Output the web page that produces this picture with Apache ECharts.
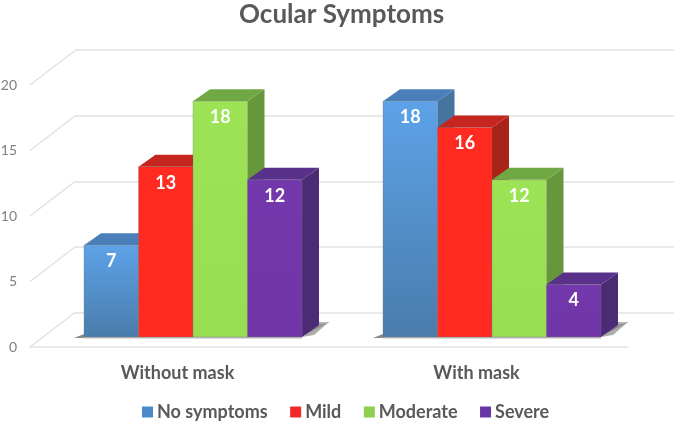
<!DOCTYPE html>
<html><head><meta charset="utf-8">
<style>html,body{margin:0;padding:0;background:#fff}#c{width:677px;height:423px}</style>
<script src="https://cdn.jsdelivr.net/npm/echarts@6/dist/echarts.min.js"></script>
</head><body><div id="c"></div>
<script>
const categories = ['Without mask', 'With mask'];
const noSymptoms = [7, 18];
const mild = [13, 16];
const moderate = [18, 12];
const severe = [12, 4];
const yTicks = [0, 5, 10, 15, 20];

const seriesDefs = [
  {name:'No symptoms', values:noSymptoms, front:['#5da2e8','#4a7cab'], top:'#4a80b9', side:'#47749f', legend:'#4a8ac8'},
  {name:'Mild', values:mild, front:['#ff2a20','#ff2a20'], top:'#c5261f', side:'#a92319', legend:'#f0282a'},
  {name:'Moderate', values:moderate, front:['#9de356','#98de52'], top:'#70a943', side:'#66973a', legend:'#8fce4e'},
  {name:'Severe', values:severe, front:['#7339ac','#7036a8'], top:'#59318b', side:'#4b2b74', legend:'#6a35a5'}
];

const barOffset = [13.5, -10];   // bars stand part-way back on the floor
const depth = [17, -12];         // extrusion of each bar
const wallOffset = [45, -34.5];  // back wall relative to the front plane
const barRatio = 54.5 / 299;

function grad(c){return new echarts.graphic.LinearGradient(0,0,0,1,[{offset:0,color:c[0]},{offset:1,color:c[1]}]);}

function barRender(def, idx){
  return function(params, api){
    const cat = api.value(0), val = api.value(1);
    const band = api.size([1,0])[0], w = band*barRatio;
    const c = api.coord([cat,val]), b = api.coord([cat,0]);
    const x0 = c[0] + barOffset[0] + (idx-2)*w, x1 = x0 + w;
    const yt = c[1] + barOffset[1], yb = b[1] + barOffset[1];
    const dx = depth[0], dy = depth[1];
    const poly = (pts, fill) => ({type:'polygon', shape:{points:pts}, style:{fill}});
    return {type:'group', children:[
      poly([[x1,yb],[x1+dx,yb+dy],[x1+dx,yt+dy],[x1,yt]], def.side),
      poly([[x0,yt],[x0+dx,yt+dy],[x1+dx,yt+dy],[x1,yt]], def.top),
      {type:'rect', shape:{x:x0,y:yt,width:w,height:yb-yt}, style:{fill:grad(def.front), stroke:'rgba(120,120,120,0.55)', lineWidth:0.6}},
      {type:'text', x:(x0+x1)/2, y:yt+16, style:{text:String(val), fill:'#fff', font:'bold 18px Lato', align:'center', verticalAlign:'middle'}}
    ]};
  };
}

function shadowRender(params, api){
  const cat = api.value(0);
  const band = api.size([1,0])[0], w = band*barRatio;
  const b = api.coord([cat,0]);
  const x0 = b[0] + barOffset[0] - 2*w, x1 = x0 + 4*w, y = b[1] + barOffset[1];
  return {type:'group', children:[
    {type:'polygon', shape:{points:[[x1-2,y],[x1+28,y-15],[x1+14,y-15]]},
      style:{fill:new echarts.graphic.LinearGradient(0,0,1,0,[{offset:0,color:'#555'},{offset:1,color:'#d8d8d8'}])}},
    {type:'polygon', shape:{points:[[x1,y],[x1+12,y-2],[x1+27,y-15],[x1+17,y-12]]},
      style:{fill:'#777', opacity:0.6}},
    {type:'polygon', shape:{points:[[x0,y-3],[x0,y+1],[x0-10,y+1]]},
      style:{fill:'#888'}},
    {type:'rect', shape:{x:x0,y:y,width:x1-x0,height:1.5}, style:{fill:'#bbb'}}
  ]};
}

function diagRender(params, api){
  const c = api.coord([0, api.value(0)]);
  const x = params.coordSys.x;
  return {type:'line', shape:{x1:x,y1:c[1],x2:x+wallOffset[0],y2:c[1]+wallOffset[1]},
    style:{stroke:'#e2e2e2', lineWidth:1.5}};
}

const chart = echarts.init(document.getElementById('c'), null, {renderer:'canvas'});
chart.setOption({
  animation:false,
  backgroundColor:'#fff',
  title:{text:'Ocular Symptoms', left:234, top:-3,
    textStyle:{color:'#595959', fontFamily:'Lato', fontWeight:'bold', fontSize:26}},
  legend:{left:137, top:398, itemWidth:11, itemHeight:11, itemGap:22.5, selectedMode:false,
    icon:'rect',
    textStyle:{color:'#595959', fontFamily:'Lato', fontWeight:'bold', fontSize:18, padding:[0,0,0,-1]},
    data:seriesDefs.map(d=>d.name)},
  grid:[
    {left:30, right:49, top:85, bottom:76, outerBoundsMode:'none'},
    {left:75, right:3, top:50, bottom:110.5, outerBoundsMode:'none'}
  ],
  xAxis:[
    {type:'category', gridIndex:0, data:categories, axisTick:{show:false},
      axisLine:{show:true, lineStyle:{color:'#e2e2e2', width:1.5}},
      axisLabel:{color:'#595959', fontFamily:'Lato', fontWeight:'bold', fontSize:18, margin:17, padding:[0,4,0,0]}},
    {type:'category', gridIndex:1, data:categories, show:false}
  ],
  yAxis:[
    {type:'value', gridIndex:0, min:0, max:20, interval:5, data:yTicks,
      axisLine:{show:false}, axisTick:{show:false}, splitLine:{show:false},
      axisLabel:{color:'#7f7f7f', fontFamily:'Lato', fontSize:14, margin:13}},
    {type:'value', gridIndex:1, min:0, max:20, interval:5,
      axisLine:{show:false}, axisTick:{show:false}, axisLabel:{show:false},
      splitLine:{show:true, lineStyle:{color:'#e2e2e2', width:1.5}}}
  ],
  series:[
    {type:'custom', name:'diagonals', coordinateSystem:'cartesian2d', xAxisIndex:0, yAxisIndex:0, silent:true,
      renderItem:diagRender, data:yTicks.map(t=>[t]), encode:{y:0}, z:1},
    {type:'custom', name:'shadow', coordinateSystem:'cartesian2d', xAxisIndex:0, yAxisIndex:0, silent:true,
      renderItem:shadowRender, data:categories.map((c,i)=>[i,0]), encode:{x:0,y:1}, z:2}
  ].concat(seriesDefs.map((d,i)=>({
    type:'custom', name:d.name, coordinateSystem:'cartesian2d', xAxisIndex:0, yAxisIndex:0,
    itemStyle:{color:d.legend},
    renderItem:barRender(d,i), data:d.values.map((v,j)=>[j,v]), encode:{x:0,y:1}, z:3
  })))
});
</script></body></html>
